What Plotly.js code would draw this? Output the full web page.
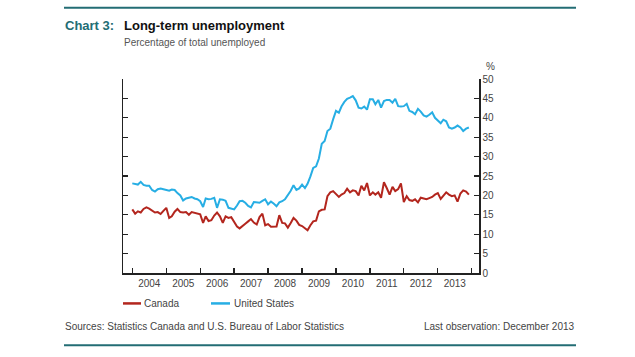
<!DOCTYPE html>
<html>
<head>
<meta charset="utf-8">
<script src="https://cdn.plot.ly/plotly-3.0.1.min.js"></script>
<style>
html,body{margin:0;padding:0;background:#fff;}
#chart{width:635px;height:357px;}
</style>
</head>
<body>
<div id="chart"></div>
<script>
// Monthly data, January 2004 to December 2013
const startYear = 2004;
const canada = [
  16.4,15.3,15.9,15.6,16.5,16.9,16.6,16.2,15.6,15.7,15.2,16.0,
  16.8,14.2,14.6,15.8,16.5,15.7,15.6,15.7,15.0,15.7,15.5,15.3,
  15.1,12.9,14.6,13.4,13.6,14.8,15.6,14.6,12.9,14.6,14.2,14.4,
  13.3,12.0,11.5,12.2,12.7,13.3,13.9,13.0,12.5,14.4,15.3,12.3,
  12.6,11.9,11.9,12.0,14.9,12.9,12.8,11.7,12.9,14.2,13.5,12.4,
  12.1,11.5,11.0,12.3,13.3,13.5,15.9,16.3,16.4,19.8,20.8,21.1,
  20.4,19.6,20.2,20.6,21.7,20.8,21.3,21.1,20.0,22.5,21.3,23.2,
  20.0,20.8,20.2,20.8,19.4,23.4,21.9,20.2,22.2,21.1,21.6,23.1,
  18.3,19.8,18.8,18.6,19.0,18.2,19.4,19.1,19.0,19.3,19.6,20.2,
  20.6,19.1,20.0,20.8,20.2,19.8,20.0,18.4,20.5,21.3,21.0,20.2
];
const unitedStates = [
  23.1,22.9,22.8,23.5,22.7,22.5,22.5,21.4,21.0,21.6,21.8,21.6,
  21.4,21.2,21.5,21.4,20.6,20.0,18.7,19.2,19.4,19.6,19.2,19.0,
  18.5,17.0,19.2,19.0,19.1,19.4,16.8,19.0,18.9,18.6,16.8,16.6,
  16.4,17.4,18.5,18.6,18.1,17.3,16.9,18.3,18.2,18.1,18.6,19.0,
  17.7,18.4,17.9,17.2,18.2,18.5,19.0,20.0,21.2,22.6,21.4,21.8,
  22.8,21.9,23.0,24.9,27.1,27.5,29.5,33.3,34.0,36.6,37.2,39.6,
  41.8,41.3,42.9,44.1,44.9,45.2,45.6,44.5,42.6,42.4,42.9,42.1,
  44.8,44.8,43.5,44.6,42.6,44.3,44.6,44.6,43.9,44.9,43.0,42.9,
  43.0,43.6,41.8,41.5,40.9,42.3,41.6,40.6,40.3,40.8,41.4,40.0,
  39.2,38.6,39.5,39.1,37.5,37.2,37.5,38.0,37.5,36.6,37.2,37.5
];
const seriesNames = ["Canada", "United States"];
const yTicks = [0,5,10,15,20,25,30,35,40,45,50];

const dates = canada.map((_, i) => {
  const y = startYear + Math.floor(i / 12);
  const m = (i % 12) + 1;
  return y + "-" + (m < 10 ? "0" + m : m) + "-01";
});

const RED = "#b3261e";
const BLUE = "#27aee4";
const TEAL = "#236d74";
const FONT = "Liberation Sans, Arial, sans-serif";

// plot area in pixels: x 123..479, y 79..273.5
const L = 123, R = 479, T = 79, B = 273.5;
const px = x => (x - L) / (R - L);
const py = y => (B - y) / (B - T);

const traces = [
  {x: dates, y: canada, name: seriesNames[0], type: "scatter", mode: "lines",
   line: {color: RED, width: 2}, hoverinfo: "x+y"},
  {x: dates, y: unitedStates, name: seriesNames[1], type: "scatter", mode: "lines",
   line: {color: BLUE, width: 2}, hoverinfo: "x+y"}
];

const layout = {
  width: 635, height: 357,
  margin: {l: L, r: 635 - R, t: T, b: 357 - B, pad: 0},
  paper_bgcolor: "#fff", plot_bgcolor: "#fff",
  showlegend: false,
  font: {family: FONT, size: 10, color: "#333"},
  xaxis: {
    type: "date",
    range: ["2003-09-23", "2014-03-20"],
    tick0: "2004-01-01", dtick: "M12",
    tickformat: "%Y", ticklabelmode: "period",
    ticks: "inside", ticklen: 5, tickwidth: 1.3, tickcolor: "#222",
    showline: true, linecolor: "#222", linewidth: 1.5,
    showgrid: false, zeroline: false,
    tickfont: {family: FONT, size: 10, color: "#444"}
  },
  yaxis: {
    range: [0, 50], tickvals: yTicks,
    side: "right", mirror: "ticks",
    ticks: "inside", ticklen: 5, tickwidth: 1.3, tickcolor: "#222",
    showline: true, linecolor: "#222", linewidth: 1.5,
    showgrid: false, zeroline: false,
    tickfont: {family: FONT, size: 10, color: "#444"}
  },
  shapes: [
    {type: "line", xref: "paper", yref: "paper", x0: px(64), x1: px(576), y0: py(7.5), y1: py(7.5),
     line: {color: TEAL, width: 2}},
    {type: "line", xref: "paper", yref: "paper", x0: px(64), x1: px(576), y0: py(346), y1: py(346),
     line: {color: TEAL, width: 2}},
    {type: "line", xref: "paper", yref: "paper", x0: px(123), x1: px(141), y0: py(304), y1: py(304),
     line: {color: RED, width: 2.5}},
    {type: "line", xref: "paper", yref: "paper", x0: px(211), x1: px(230), y0: py(304), y1: py(304),
     line: {color: BLUE, width: 2.5}}
  ],
  annotations: [
    {xref: "paper", yref: "paper", x: px(63), y: py(25), xanchor: "left", yanchor: "middle",
     text: "<b>Chart 3:</b>", showarrow: false, font: {family: FONT, size: 13, color: TEAL}},
    {xref: "paper", yref: "paper", x: px(122), y: py(25), xanchor: "left", yanchor: "middle",
     text: "<b>Long-term unemployment</b>", showarrow: false, font: {family: FONT, size: 13, color: "#111"}},
    {xref: "paper", yref: "paper", x: px(122), y: py(42), xanchor: "left", yanchor: "middle",
     text: "Percentage of total unemployed", showarrow: false, font: {family: FONT, size: 10, color: "#555"}},
    {xref: "paper", yref: "paper", x: px(484), y: py(66), xanchor: "left", yanchor: "middle",
     text: "%", showarrow: false, font: {family: FONT, size: 10, color: "#444"}},
    {xref: "paper", yref: "paper", x: px(142), y: py(304), xanchor: "left", yanchor: "middle",
     text: seriesNames[0], showarrow: false, font: {family: FONT, size: 10, color: "#444"}},
    {xref: "paper", yref: "paper", x: px(232), y: py(304), xanchor: "left", yanchor: "middle",
     text: seriesNames[1], showarrow: false, font: {family: FONT, size: 10, color: "#444"}},
    {xref: "paper", yref: "paper", x: px(63), y: py(327), xanchor: "left", yanchor: "middle",
     text: "Sources: Statistics Canada and U.S. Bureau of Labor Statistics", showarrow: false,
     font: {family: FONT, size: 10, color: "#444"}},
    {xref: "paper", yref: "paper", x: px(577), y: py(327), xanchor: "right", yanchor: "middle",
     text: "Last observation: December 2013", showarrow: false,
     font: {family: FONT, size: 10, color: "#444"}}
  ]
};

Plotly.newPlot("chart", traces, layout, {displayModeBar: false, staticPlot: true});
</script>
</body>
</html>
